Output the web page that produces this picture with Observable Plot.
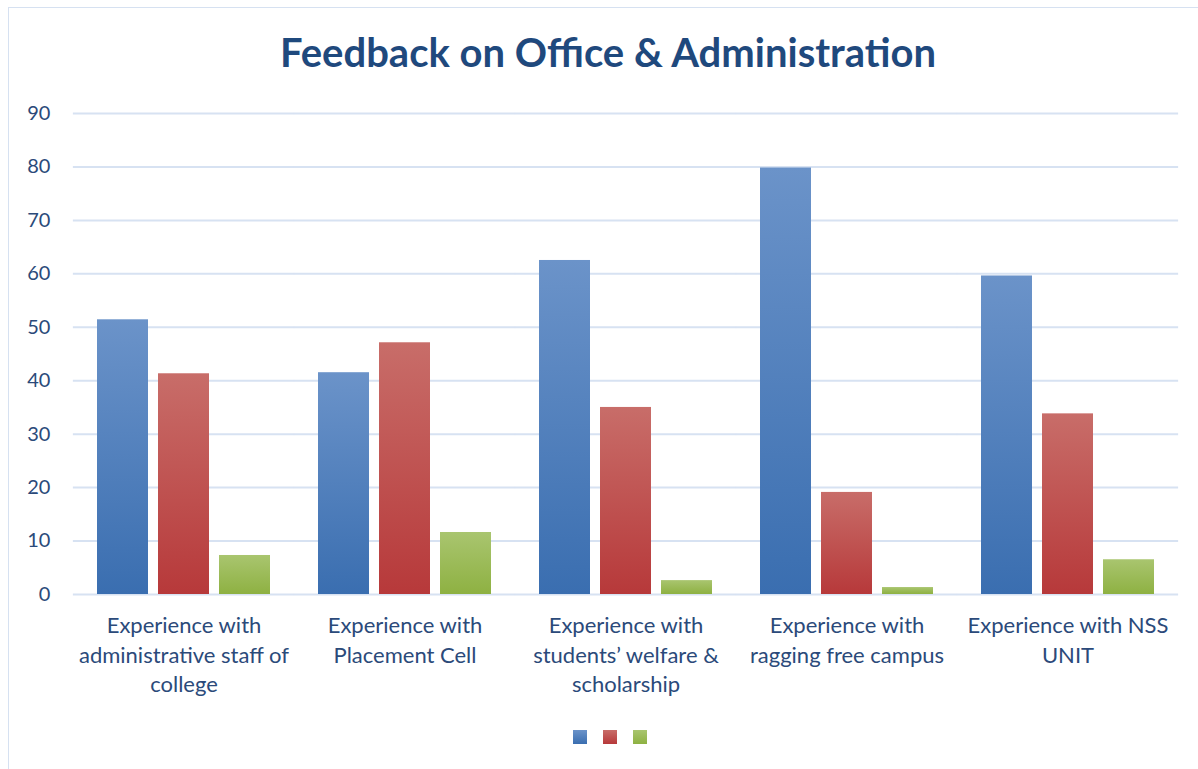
<!DOCTYPE html>
<html>
<head>
<meta charset="utf-8">
<script src="https://cdn.jsdelivr.net/npm/d3@7"></script>
<script src="https://cdn.jsdelivr.net/npm/@observablehq/plot@0.6"></script>
<style>
  html, body { margin: 0; padding: 0; background: #fff; }
  #wrap { position: relative; width: 1198px; height: 769px; overflow: hidden; font-family: Lato, "Open Sans", sans-serif; }
  #frame { position: absolute; left: 8px; top: 7px; width: 1300px; height: 900px; border: 1.5px solid #D6E1F1; box-sizing: border-box; }
  #title { position: absolute; left: 0; width: 1216px; top: 28px; text-align: center; font-weight: 700; font-size: 40px; color: #1F497D; }
  #chart { position: absolute; left: 0; top: 0; }
  #legend { position: absolute; top: 730px; left: 0; width: 1220px; display: flex; justify-content: center; gap: 16px; }
  #legend span { display: inline-block; width: 14px; height: 14px; }
</style>
</head>
<body>
<div id="wrap">
  <div id="frame"></div>
  <div id="chart"></div>
  <div id="title">Feedback on Office &amp; Administration</div>
  <div id="legend"></div>
</div>
<script>
const categories = [
  "Experience with administrative staff of college",
  "Experience with Placement Cell",
  "Experience with students’ welfare & scholarship",
  "Experience with ragging free campus",
  "Experience with NSS UNIT"
];
const tickLabels = [
  "Experience with\nadministrative staff of\ncollege",
  "Experience with\nPlacement Cell",
  "Experience with\nstudents’ welfare &\nscholarship",
  "Experience with\nragging free campus",
  "Experience with NSS\nUNIT"
];
const series = ["Series 1", "Series 2", "Series 3"];
const values1 = [51.4, 41.5, 62.5, 79.8, 59.6];
const values2 = [41.3, 47.1, 35.0, 19.1, 33.8];
const values3 = [7.3, 11.6, 2.6, 1.3, 6.5];
const yTicks = [0, 10, 20, 30, 40, 50, 60, 70, 80, 90];

const gradients = [
  {id: "gBlue", top: "#6B93C9", bottom: "#3A6EB0"},
  {id: "gRed", top: "#C86D69", bottom: "#B7393A"},
  {id: "gGreen", top: "#A9C56F", bottom: "#8EB142"}
];

const table = [];
[values1, values2, values3].forEach((vals, s) => {
  vals.forEach((v, i) => table.push({category: categories[i], series: series[s], value: v}));
});

function defs() {
  const d = d3.create("svg:defs");
  for (const g of gradients) {
    const lg = d.append("linearGradient").attr("id", g.id).attr("x1", 0).attr("y1", 0).attr("x2", 0).attr("y2", 1);
    lg.append("stop").attr("offset", "0%").attr("stop-color", g.top);
    lg.append("stop").attr("offset", "100%").attr("stop-color", g.bottom);
  }
  return d.node();
}

const labelColor = "#2B4A7A";
const W = 1198, mL = 72, mR = 19;
const fxPadInner = 0.218, fxPadOuter = 0.109;
// half of the gap between facets, so grid rules join across facets
const fxStep = (W - mL - mR) / (categories.length - fxPadInner + 2 * fxPadOuter);
const halfGap = fxStep * fxPadInner / 2;

const chart = Plot.plot({
  width: W,
  height: 710,
  marginLeft: mL,
  marginRight: mR,
  marginTop: 113,
  marginBottom: 116,
  style: {background: "transparent", fontFamily: "Lato, 'Open Sans', sans-serif"},
  fx: {domain: categories, paddingInner: fxPadInner, paddingOuter: fxPadOuter, label: null},
  x: {domain: series, paddingInner: 0.17, paddingOuter: 0, axis: null},
  y: {domain: [0, 90], label: null},
  color: {type: "ordinal", domain: series, range: gradients.map(g => `url(#${g.id})`)},
  marks: [
    defs,
    Plot.ruleY(yTicks, {stroke: "#D7E2F2", strokeWidth: 2, insetLeft: -halfGap, insetRight: -halfGap}),
    Plot.barY(table, {fx: "category", x: "series", y: "value", fill: "series"}),
    Plot.axisY(yTicks, {tickSize: 0, tickPadding: 23 + halfGap, fontSize: 20, color: labelColor, label: null}),
    Plot.axisFx({anchor: "bottom", tickSize: 0, tickPadding: 18, fontSize: 22, lineHeight: 1.34, color: labelColor, label: null,
      tickFormat: d => tickLabels[categories.indexOf(d)]})
  ]
});
document.getElementById("chart").appendChild(chart);

const legend = document.getElementById("legend");
for (const g of gradients) {
  const s = document.createElement("span");
  s.style.background = `linear-gradient(${g.top}, ${g.bottom})`;
  legend.appendChild(s);
}
</script>
</body>
</html>
